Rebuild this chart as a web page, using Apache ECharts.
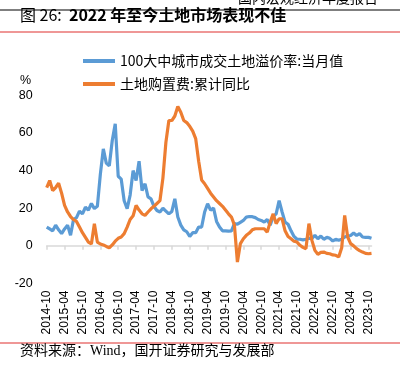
<!DOCTYPE html>
<html>
<head>
<meta charset="utf-8">
<script src="https://cdn.jsdelivr.net/npm/echarts@6/dist/echarts.min.js"></script>
<style>
  html, body { margin: 0; padding: 0; background: #fff; }
  #chart { width: 400px; height: 368px; }
</style>
</head>
<body>
<div id="chart"></div>
<script>
// months 2014-10 .. 2023-11
const months = [];
for (let y = 2014, m = 10; y < 2023 || (y === 2023 && m <= 11); ) {
  months.push(y + '-' + String(m).padStart(2, '0'));
  m++;
  if (m > 12) { m = 1; y++; }
}

const premiumRate = [
  10, 9, 8, 11, 8.5, 6.5, 9, 11, 5.6, 14,
  15, 18.5, 17, 20.5, 19, 22.5, 19.8, 21, 38, 51.5,
  44, 42.5, 56, 64.8, 37, 35.5, 24, 19.7, 27, 40,
  34.7, 45, 29.4, 33, 26, 25, 21, 18.8, 18, 20,
  18.5, 17, 18.3, 25, 15.3, 11, 8.5, 7.5, 5, 7,
  7, 10, 10, 18, 22.4, 19, 20, 13, 10, 8,
  8, 7.8, 8, 11.8, 11.5, 12.5, 13.5, 15.3, 15.6, 15.5,
  15, 14, 13.5, 12.6, 14, 11, 15.6, 17, 24, 18,
  12.6, 11.5, 8, 5, 3.5, 3.5, 3.2, 3.5, 4, 4,
  5.6, 3.8, 5.2, 3.5, 4.5, 4, 2.6, 3.5, 3, 3.5,
  4.7, 5.2, 5.5, 6.8, 5.5, 6.5, 4.7, 4.5, 4.5, 4
];

const landCostYoY = [
  31, 34.7, 29.4, 31, 33.3, 28, 21.5, 18, 15.6, 14,
  13, 10, 7, 4.5, 2, 1, 11.8, 2, 1, 0.5,
  -0.3, -1, 0.5, 2.5, 4, 4.7, 6.5, 10, 14, 16,
  21.5, 19, 17, 16.2, 18, 19.7, 21, 22.5, 24, 36,
  55, 66.6, 66.6, 69, 74, 71, 66.6, 65.5, 63.5, 61,
  57, 45, 35, 33, 30.5, 28, 26, 24, 22.5, 21,
  19, 17, 15.3, 11, -8.6, 1.2, 3.8, 5.6, 6.8, 8.5,
  9.1, 9.1, 9.1, 9.1, 7.3, 12.6, 17, 11.8, 14.4, 14.4,
  8, 5, 3.8, 2.5, 2, 0.3, -0.8, -1.5, 11.8, 2.9,
  -2.4, -4.5, -3.5, -3.3, -4, -4.2, -4.8, -5, -5.9, -1,
  16.2, 4.7, 1.2, 0, -1.5, -2.5, -3.3, -4, -4.2, -4
];

const seriesNames = ['100大中城市成交土地溢价率:当月值', '土地购置费:累计同比'];
const yTicks = [-20, 0, 20, 40, 60, 80];

const cjk = '"Noto Sans CJK SC", "Liberation Sans", sans-serif';

const myChart = echarts.init(document.getElementById('chart'));
const option = {
  animation: false,
  color: ['#5B9BD5', '#ED7D31'],
  grid: {
    left: 46.7, right: 28.5, top: 95.3, bottom: 84.5,
    containLabel: false,
    outerBoundsMode: 'none'
  },
  legend: {
    orient: 'vertical',
    left: 78,
    top: 49,
    itemWidth: 32,
    itemHeight: 4,
    itemGap: 9,
    icon: 'rect',
    textStyle: { fontFamily: cjk, fontSize: 14, color: '#000' },
    data: seriesNames
  },
  xAxis: {
    type: 'category',
    data: months,
    boundaryGap: false,
    axisLine: { onZero: true, lineStyle: { color: '#d9d9d9', width: 1.5 } },
    axisTick: { show: true, interval: 5, length: 4, lineStyle: { color: '#d9d9d9', width: 1.5 } },
    axisLabel: {
      interval: 5,
      rotate: 90,
      margin: 7,
      fontFamily: '"Liberation Sans", Arial, sans-serif',
      fontSize: 12,
      color: '#000'
    },
    splitLine: { show: false }
  },
  yAxis: {
    type: 'value',
    min: yTicks[0],
    max: yTicks[yTicks.length - 1],
    interval: 20,
    axisLine: { show: false },
    axisTick: { show: false },
    splitLine: { show: false },
    axisLabel: {
      margin: 14,
      fontFamily: '"Liberation Sans", Arial, sans-serif',
      fontSize: 12.5,
      color: '#000'
    }
  },
  series: [
    {
      name: seriesNames[0],
      type: 'line',
      data: premiumRate,
      symbol: 'none',
      lineStyle: { width: 3.2 }
    },
    {
      name: seriesNames[1],
      type: 'line',
      data: landCostYoY,
      symbol: 'none',
      lineStyle: { width: 3.2 }
    }
  ],
  graphic: [
    {
      type: 'text', right: 22, top: -9,
      style: { text: '国内宏观经济年度报告', font: '14px ' + cjk, fill: '#000' }
    },
    {
      type: 'rect', shape: { x: 0, y: 9.5, width: 400, height: 1 },
      style: { fill: '#000' }
    },
    {
      type: 'text', left: 20, top: 7,
      style: {
        text: '{n|图 26:  }{b|2022 年至今土地市场表现不佳}',
        rich: {
          n: { font: '16px ' + cjk, fill: '#000' },
          b: { font: 'bold 16px ' + cjk, fill: '#000' }
        }
      }
    },
    {
      type: 'rect', shape: { x: 0, y: 31.5, width: 400, height: 1 },
      style: { fill: '#e0302f' }
    },
    {
      type: 'text', left: 20, top: 74,
      style: { text: '%', font: '12.5px "Liberation Sans", Arial, sans-serif', fill: '#000' }
    },
    {
      type: 'rect', shape: { x: 0, y: 342.5, width: 400, height: 1 },
      style: { fill: '#e0302f' }
    },
    {
      type: 'text', left: 20, top: 344,
      style: {
        text: '资料来源：Wind，国开证券研究与发展部',
        font: '14px "Liberation Serif", "Noto Sans CJK SC", serif',
        fill: '#000'
      }
    }
  ]
};

myChart.setOption(option);
</script>
</body>
</html>
